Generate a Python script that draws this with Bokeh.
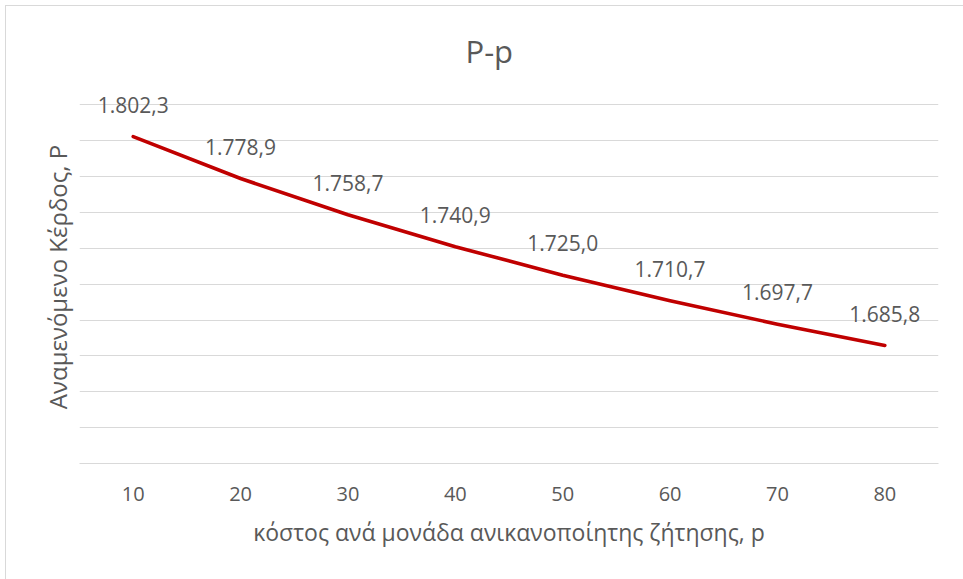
from bokeh.plotting import figure
from bokeh.models import ColumnDataSource, FactorRange, Range1d, FixedTicker, LabelSet
from bokeh.core.properties import value
from bokeh.embed import file_html
from bokeh.resources import INLINE

# ---- data ----
categories = ["10", "20", "30", "40", "50", "60", "70", "80"]
profit = [1802.3, 1778.9, 1758.7, 1740.9, 1725.0, 1710.7, 1697.7, 1685.8]
y_ticks = [1620, 1640, 1660, 1680, 1700, 1720, 1740, 1760, 1780, 1800, 1820]
y_headroom = 8  # extra room above the top gridline so the first label is not clipped
title_text = "P-p"
x_title = "κόστος ανά μονάδα ανικανοποίητης ζήτησης, p"
y_title = "Αναμενόμενο Κέρδος, P"


def greek_fmt(v):
    s = f"{v:,.1f}"
    return s.replace(",", "X").replace(".", ",").replace("X", ".")


labels = [greek_fmt(v) for v in profit]

FONT = "Open Sans"
TXT = "#595959"
GRID = "#D9D9D9"

src = ColumnDataSource(dict(x=categories, y=profit, lab=labels))

p = figure(
    x_range=FactorRange(*categories, range_padding=0),
    y_range=Range1d(y_ticks[0], y_ticks[-1] + y_headroom),
    width=963, height=579,
    output_backend="svg", toolbar_location=None,
    min_border_left=79, min_border_right=25,
    min_border_top=90, min_border_bottom=116,
)
p.outline_line_color = None
p.background_fill_color = "white"
p.border_fill_color = None
# light chart-area border (left and top edges) drawn behind the transparent border area
p.styles = {
    "background": (
        "linear-gradient(#D9D9D9, #D9D9D9) 5px 5px / 1px 100% no-repeat, "
        "linear-gradient(#D9D9D9, #D9D9D9) 5px 5px / 100% 1px no-repeat, white"
    )
}

# title
p.title.text = title_text
p.title.align = "left"
p.title.offset = 386
p.title.standoff = 37
p.title.text_font = FONT
p.title.text_font_size = "31px"
p.title.text_font_style = "normal"
p.title.text_color = TXT

# grid
p.xgrid.grid_line_color = None
p.ygrid.ticker = FixedTicker(ticks=y_ticks)
p.ygrid.grid_line_color = GRID
p.ygrid.grid_line_width = 1

# y axis (no tick labels, only title)
p.yaxis.ticker = FixedTicker(ticks=y_ticks)
p.yaxis.major_label_overrides = {t: "" for t in y_ticks}
p.yaxis.axis_line_color = None
p.yaxis.major_tick_line_color = None
p.yaxis.minor_tick_line_color = None
p.yaxis.major_label_standoff = 0
p.yaxis.axis_label = y_title
p.yaxis.axis_label_text_font = FONT
p.yaxis.axis_label_text_font_size = "24px"
p.yaxis.axis_label_text_font_style = "normal"
p.yaxis.axis_label_text_color = TXT
p.yaxis.axis_label_standoff = 0

# x axis
p.xaxis.axis_line_color = GRID
p.xaxis.axis_line_width = 1
p.xaxis.major_tick_line_color = None
p.xaxis.minor_tick_line_color = None
p.xaxis.major_label_text_font = FONT
p.xaxis.major_label_text_font_size = "20px"
p.xaxis.major_label_text_color = TXT
p.xaxis.major_label_standoff = 17
p.xaxis.axis_label = x_title
p.xaxis.axis_label_text_font = FONT
p.xaxis.axis_label_text_font_size = "23px"
p.xaxis.axis_label_text_font_style = "normal"
p.xaxis.axis_label_text_color = TXT
p.xaxis.axis_label_standoff = 12

# line
p.line("x", "y", source=src, line_color="#C00000", line_width=3.6,
       line_join="round", line_cap="round")

# data labels
p.add_layout(LabelSet(x="x", y="y", text="lab", source=src, y_offset=32,
                      text_align="center", text_baseline="middle",
                      text_font=value(FONT), text_font_size=value("21px"),
                      text_color=TXT))

open("out.html", "w").write(file_html(p, INLINE))
